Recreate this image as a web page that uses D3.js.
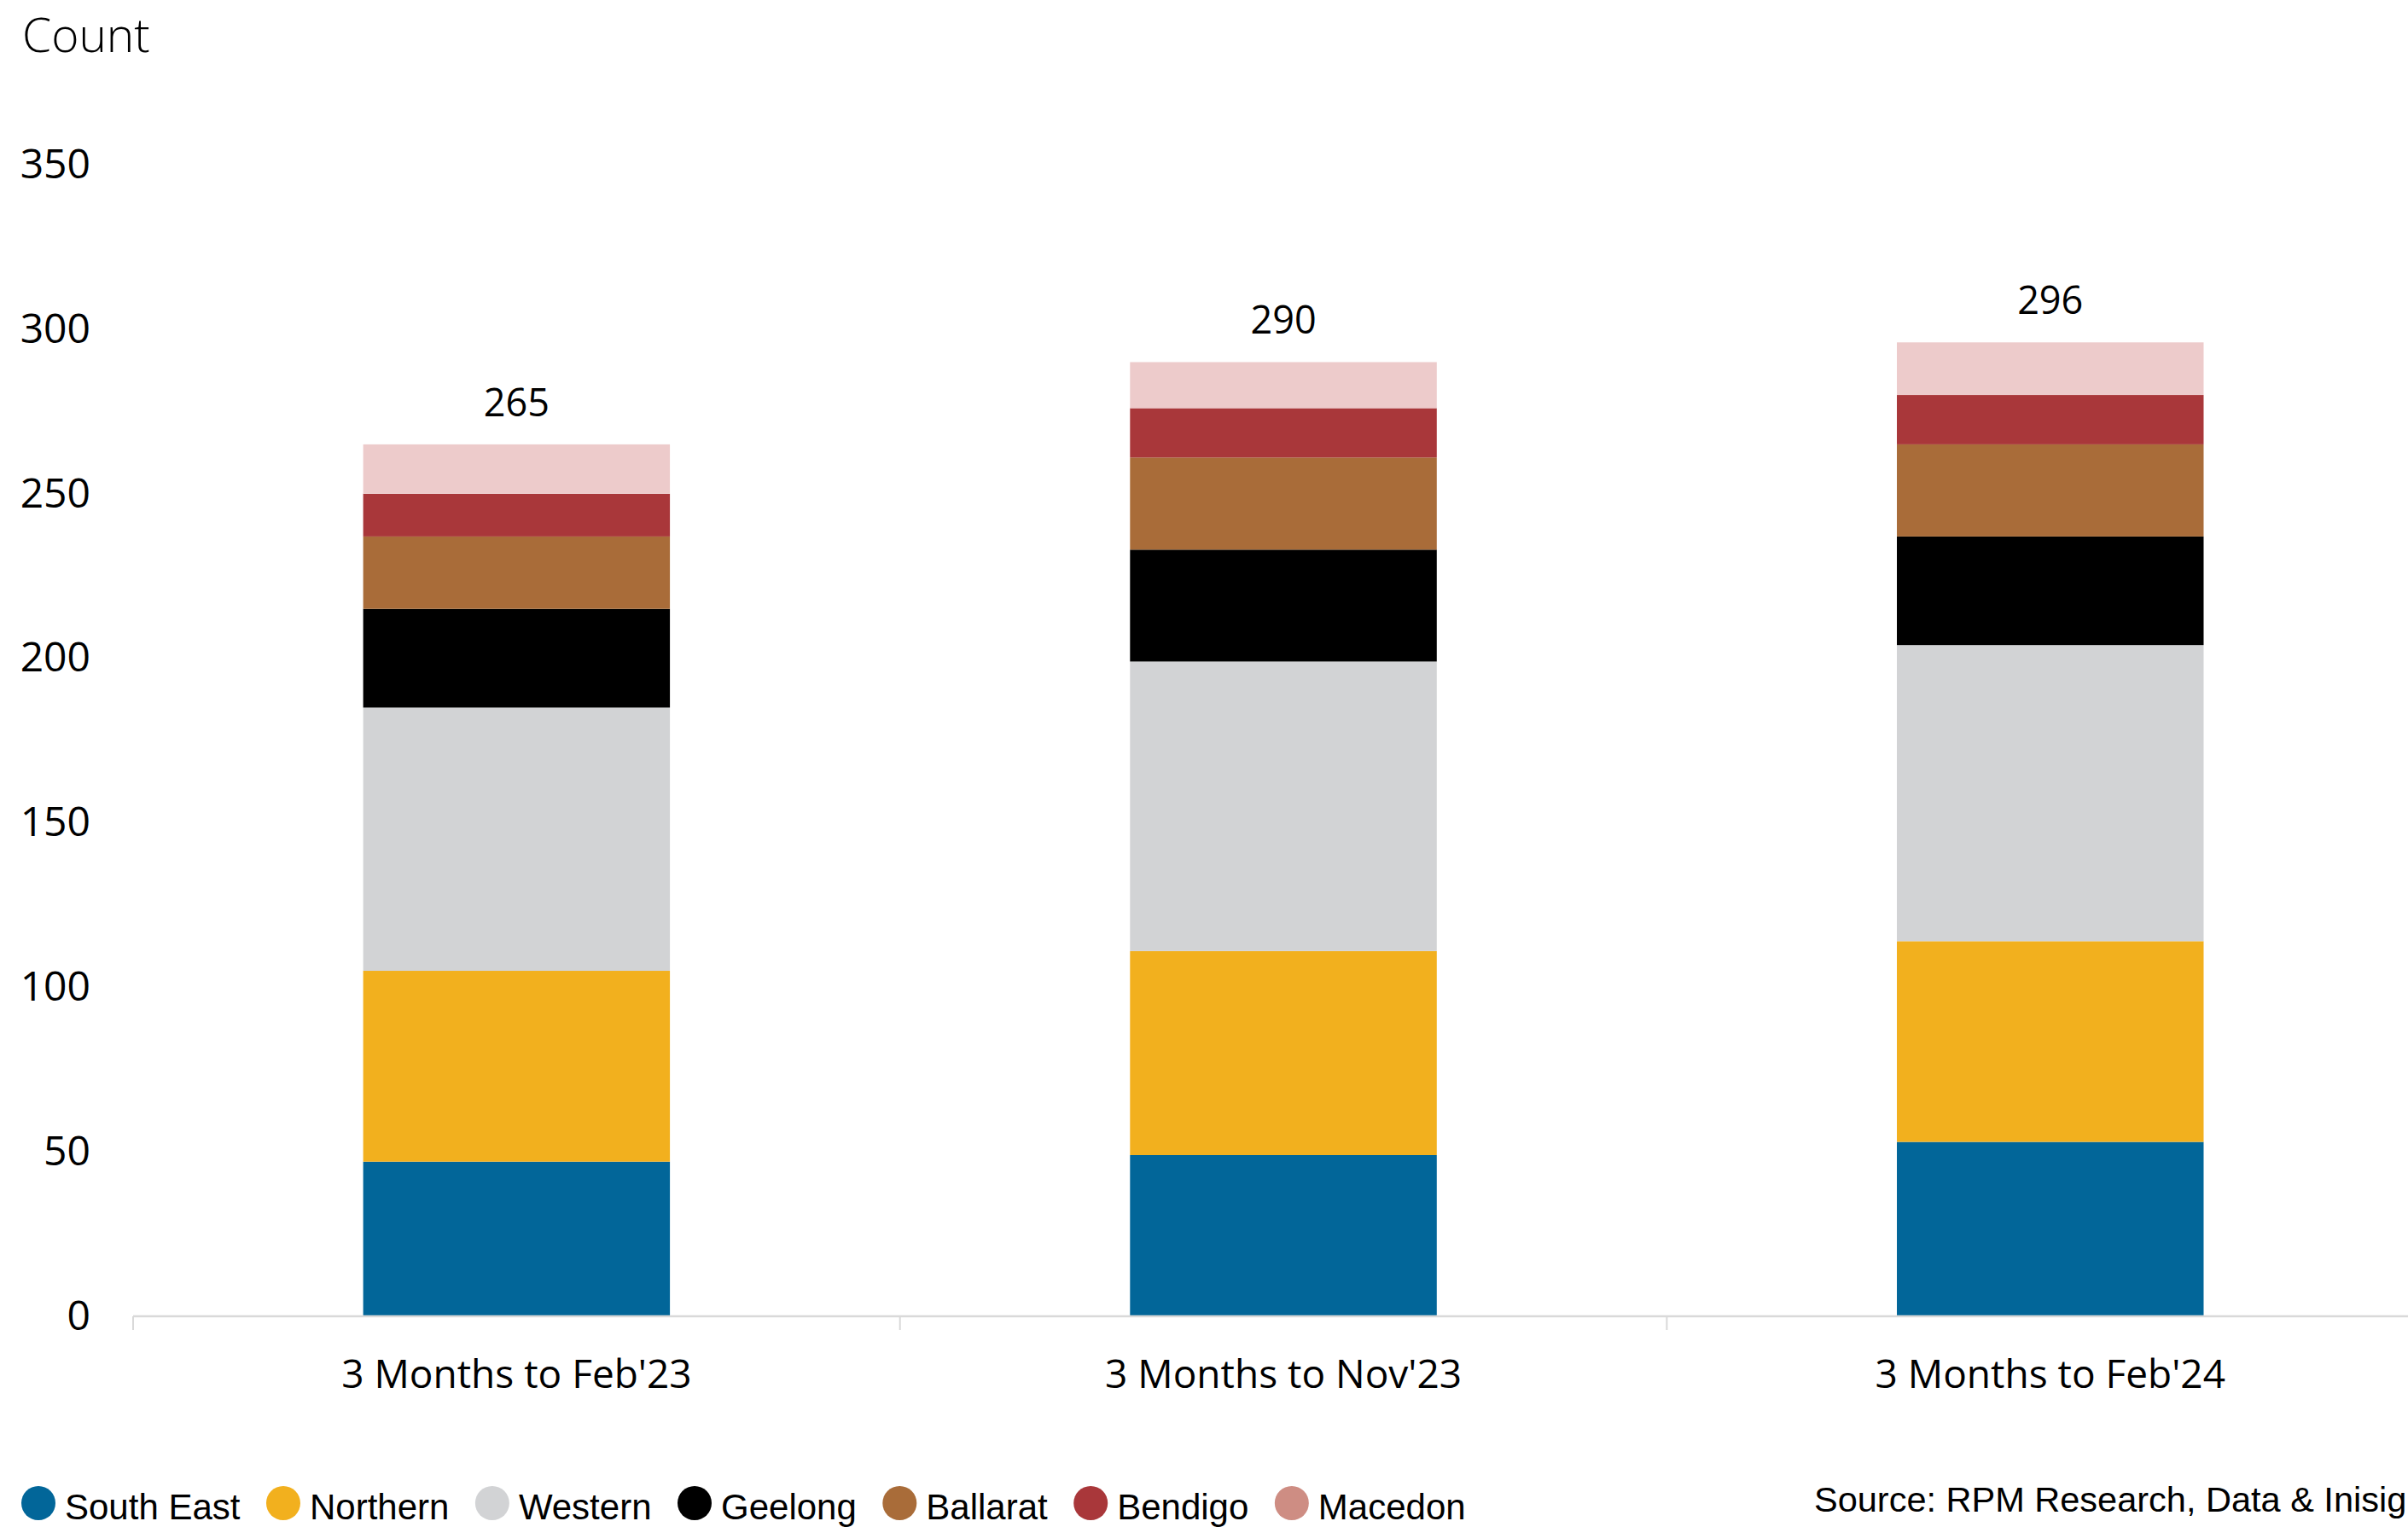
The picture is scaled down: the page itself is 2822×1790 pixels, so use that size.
<!DOCTYPE html>
<html>
<head>
<meta charset="utf-8">
<script src="https://cdn.jsdelivr.net/npm/d3@7"></script>
<style>
  html, body { margin: 0; padding: 0; background: #ffffff; }
  svg { display: block; }
</style>
</head>
<body>
<svg id="chart" width="2822" height="1790"></svg>
<script>
// Periods shown along the x axis
const categories = ["3 Months to Feb'23", "3 Months to Nov'23", "3 Months to Feb'24"];

// Regions, stacked bottom to top
const regions = ["South East", "Northern", "Western", "Geelong", "Ballarat", "Bendigo", "Macedon"];

// Counts per region for each period
const southEast = [47, 49, 53];
const northern  = [58, 62, 61];
const western   = [80, 88, 90];
const geelong   = [30, 34, 33];
const ballarat  = [22, 28, 28];
const bendigo   = [13, 15, 15];
const macedon   = [15, 14, 16];

// Totals printed above each bar
const totals = [265, 290, 296];

// Y axis ticks
const yTicks = [0, 50, 100, 150, 200, 250, 300, 350];

const barColors    = ["#026699", "#F2B01E", "#D2D3D5", "#000000", "#A96C39", "#A9373A", "#EDCBCB"];
const legendColors = ["#026699", "#F2B01E", "#D2D3D5", "#000000", "#A96C39", "#A9373A", "#CE8D83"];

const seriesValues = [southEast, northern, western, geelong, ballarat, bendigo, macedon];

// Build rows for d3.stack
const rows = categories.map((c, i) => {
  const r = { category: c };
  regions.forEach((reg, k) => { r[reg] = seriesValues[k][i]; });
  return r;
});

const svg = d3.select("#chart");
const W = 2822, H = 1790;

const plotLeft = 156;
const y0 = 1543;

const x = d3.scaleBand()
  .domain(categories)
  .range([plotLeft, plotLeft + 3 * 898.7])
  .paddingInner(0.6)
  .paddingOuter(0.3);

const y = d3.scaleLinear()
  .domain([0, 350])
  .range([y0, y0 - 350 * 3.857]);

const stack = d3.stack().keys(regions);
const stacked = stack(rows);

// Stacked bars
svg.append("g")
  .selectAll("g")
  .data(stacked)
  .join("g")
  .attr("fill", (d, i) => barColors[i])
  .selectAll("rect")
  .data(d => d)
  .join("rect")
  .attr("x", d => x(d.data.category))
  .attr("width", x.bandwidth())
  .attr("y", d => y(d[1]))
  .attr("height", d => y(d[0]) - y(d[1]));

// Baseline with category separators
const xAxis = d3.axisBottom(x).tickSize(0).tickFormat("");
const xg = svg.append("g").attr("transform", `translate(0,${y0})`).call(xAxis);
xg.select(".domain").remove();
xg.append("line")
  .attr("x1", plotLeft).attr("x2", W + 40)
  .attr("y1", 0).attr("y2", 0)
  .attr("stroke", "#D9D9D9").attr("stroke-width", 2.5);
const boundaries = [x.range()[0]].concat(categories.map(c => x(c) + x.bandwidth() + x.step() * x.paddingInner() / 2));
xg.selectAll("line.sep")
  .data(boundaries)
  .join("line")
  .attr("class", "sep")
  .attr("x1", d => d).attr("x2", d => d)
  .attr("y1", 0).attr("y2", 16)
  .attr("stroke", "#D9D9D9").attr("stroke-width", 2);

// Category labels
svg.append("g")
  .selectAll("text")
  .data(categories)
  .join("text")
  .attr("x", d => x(d) + x.bandwidth() / 2)
  .attr("y", 1627)
  .attr("text-anchor", "middle")
  .attr("font-family", "'Open Sans', sans-serif")
  .attr("font-size", 46)
  .attr("fill", "#000")
  .text(d => d);

// Y axis labels
const yAxis = d3.axisLeft(y).tickValues(yTicks).tickSize(0).tickPadding(0);
const yg = svg.append("g").attr("transform", "translate(106,0)").call(yAxis);
yg.select(".domain").remove();
yg.selectAll("text")
  .attr("font-family", "'Open Sans', sans-serif")
  .attr("font-size", 48)
  .attr("fill", "#000");

// Axis title
svg.append("text")
  .attr("x", 26)
  .attr("y", 61)
  .attr("font-family", "'Open Sans', sans-serif")
  .attr("font-weight", 300)
  .attr("font-size", 55)
  .attr("fill", "#000")
  .text("Count");

// Totals above bars
svg.append("g")
  .selectAll("text")
  .data(categories)
  .join("text")
  .attr("x", d => x(d) + x.bandwidth() / 2)
  .attr("y", (d, i) => y(totals[i]) - 33)
  .attr("text-anchor", "middle")
  .attr("font-family", "'Open Sans', sans-serif")
  .attr("font-size", 45)
  .attr("fill", "#000")
  .text((d, i) => totals[i]);

// Legend, laid out left to right
const legend = svg.append("g");
let lx = 25;
regions.forEach((reg, i) => {
  legend.append("circle")
    .attr("cx", lx + 20)
    .attr("cy", 1762)
    .attr("r", 20)
    .attr("fill", legendColors[i]);
  const t = legend.append("text")
    .attr("x", lx + 51)
    .attr("y", 1781)
    .attr("font-family", "'Liberation Sans', Arial, sans-serif")
    .attr("font-size", 42)
    .attr("fill", "#000")
    .text(reg);
  lx = lx + 51 + t.node().getComputedTextLength() + 30.5;
});

// Source note
svg.append("text")
  .attr("x", 2126)
  .attr("y", 1772)
  .attr("font-family", "'Liberation Sans', Arial, sans-serif")
  .attr("font-size", 41.5)
  .attr("fill", "#000")
  .text("Source: RPM Research, Data & Inisights");
</script>
</body>
</html>
